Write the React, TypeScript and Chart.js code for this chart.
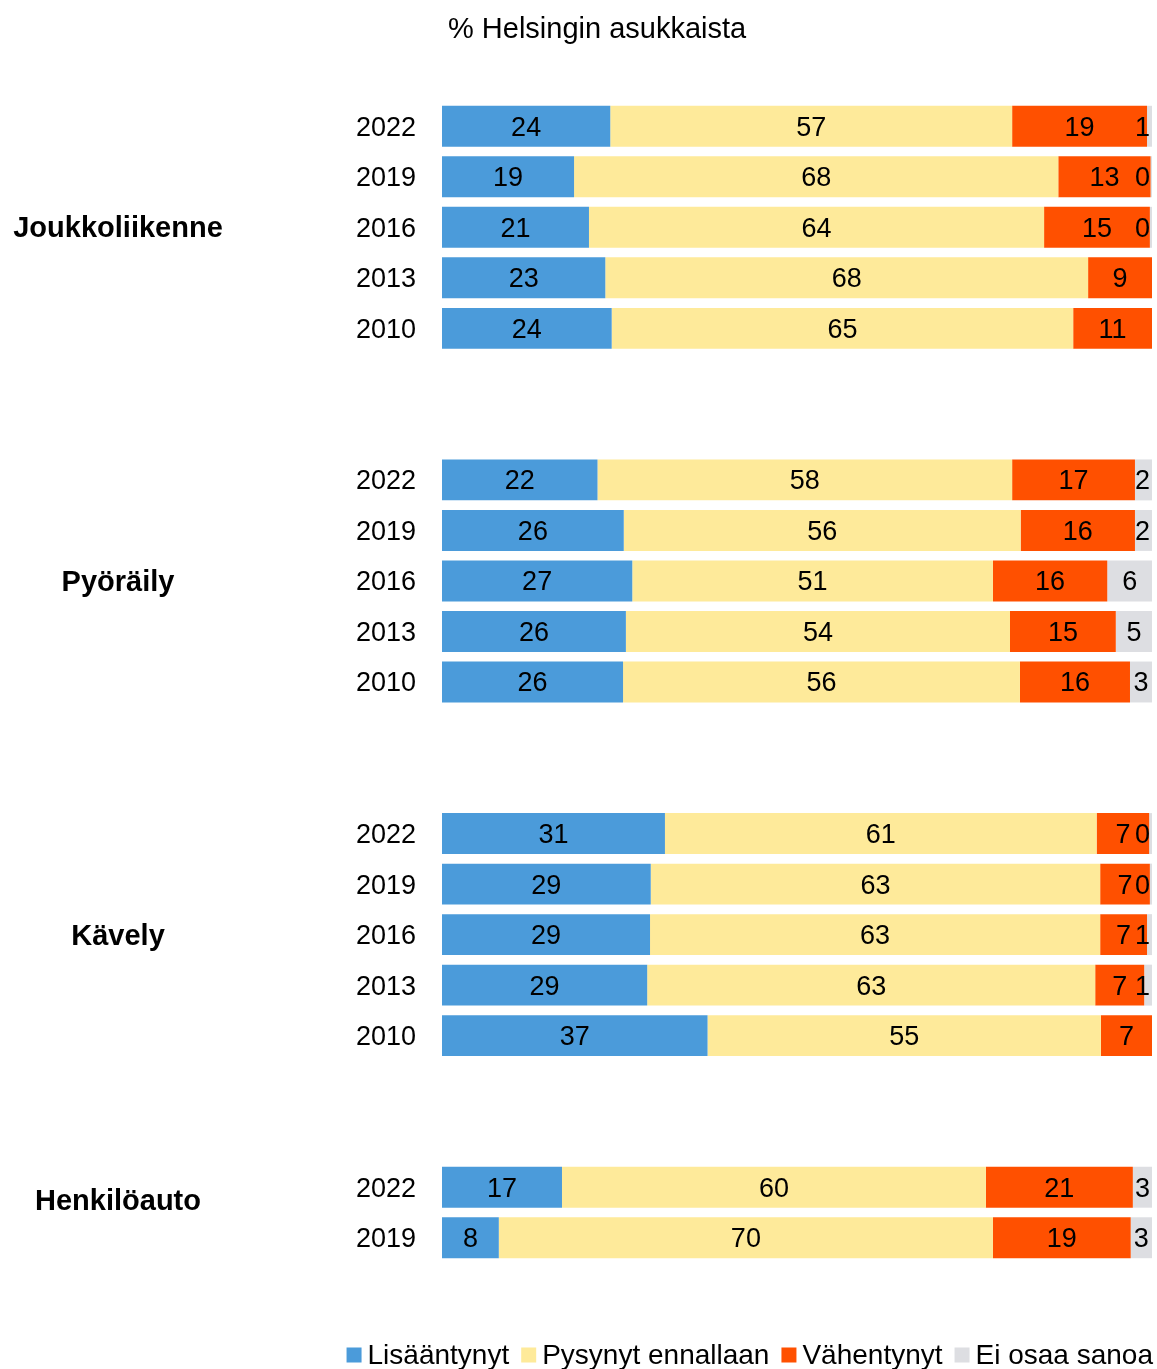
import React, { useEffect, useRef } from 'react';
import { Chart, registerables } from 'chart.js';

Chart.register(...registerables);

const FONT = "'Liberation Sans', Arial, Helvetica, sans-serif";

const titleText = '% Helsingin asukkaista';

// rows: years, '' = spacer rows between groups
const categories = [
  '2022', '2019', '2016', '2013', '2010', '', '',
  '2022', '2019', '2016', '2013', '2010', '', '',
  '2022', '2019', '2016', '2013', '2010', '', '',
  '2022', '2019',
];

const groupNames = ['Joukkoliikenne', 'Pyöräily', 'Kävely', 'Henkilöauto'];
const groupLabelRows = [2, 9, 16, 21.25];

const seriesNames = ['Lisääntynyt', 'Pysynyt ennallaan', 'Vähentynyt', 'Ei osaa sanoa'];
const seriesColors = ['#4B9BDA', '#FEEA9A', '#FF5000', '#DDDEE2'];

const lisaantynyt = [23.7, 18.6, 20.7, 23.0, 23.9, null, null, 21.9, 25.6, 26.8, 25.9, 25.5, null, null, 31.4, 29.4, 29.3, 28.9, 37.4, null, null, 16.9, 8.0];
const pysynyt = [56.6, 68.2, 64.1, 68.0, 65.0, null, null, 58.4, 55.9, 50.8, 54.1, 55.9, null, null, 60.8, 63.3, 63.4, 63.1, 55.4, null, null, 59.7, 69.6];
const vahentynyt = [19.0, 13.0, 14.9, 9.0, 11.1, null, null, 17.3, 16.1, 16.1, 14.9, 15.5, null, null, 7.4, 7.0, 6.6, 6.9, 7.2, null, null, 20.7, 19.4];
const eiOsaa = [0.7, 0.2, 0.3, 0, 0, null, null, 2.4, 2.4, 6.3, 5.1, 3.1, null, null, 0.4, 0.3, 0.7, 1.1, 0, null, null, 2.7, 3.0];

const seriesValues = [lisaantynyt, pysynyt, vahentynyt, eiOsaa];

const decorPlugin = {
  id: 'decor',
  afterDatasetsDraw(chart: any) {
    const { ctx, chartArea } = chart;
    ctx.save();
    // bar value labels
    ctx.font = `27px ${FONT}`;
    ctx.fillStyle = '#000';
    ctx.textBaseline = 'middle';
    ctx.textAlign = 'center';
    chart.data.datasets.forEach((ds: any, di: number) => {
      const meta = chart.getDatasetMeta(di);
      meta.data.forEach((el: any, i: number) => {
        const v = ds.data[i];
        if (v === null || v === undefined || v === 0) return;
        const p = el.getProps(['x', 'y', 'base'], true);
        const txt = String(Math.round(v));
        const w = ctx.measureText(txt).width;
        let cx = (p.x + p.base) / 2;
        const maxX = chartArea.right - 2 - w / 2;
        if (cx > maxX) cx = maxX;
        ctx.fillText(txt, cx, p.y + 2);
      });
    });

    // group labels
    const yScale = chart.scales.y;
    ctx.font = `bold 29px ${FONT}`;
    ctx.textAlign = 'center';
    groupNames.forEach((name, gi) => {
      const y = yScale.getPixelForValue(groupLabelRows[gi]);
      ctx.fillText(name, 118, y + 2);
    });

    // title
    ctx.font = `29px ${FONT}`;
    ctx.textAlign = 'left';
    ctx.fillText(titleText, chartArea.left + 6, 30);

    // legend (right-aligned to plot)
    ctx.font = `28px ${FONT}`;
    const box = 15;
    const gapText = 6;
    const gapItem = 12;
    const widths = seriesNames.map((n) => ctx.measureText(n).width);
    const total = widths.reduce((a, b) => a + b, 0) + seriesNames.length * (box + gapText) + gapItem * (seriesNames.length - 1);
    let x = chartArea.right + 1 - total;
    const ly = chart.height - 14;
    seriesNames.forEach((n, i) => {
      ctx.fillStyle = seriesColors[i];
      ctx.fillRect(x, ly - box / 2, box, box);
      ctx.fillStyle = '#000';
      ctx.fillText(n, x + box + gapText, ly + 1);
      x += box + gapText + widths[i] + gapItem;
    });
    ctx.restore();
  },
};

export default function App() {
  const canvasRef = useRef<HTMLCanvasElement | null>(null);

  useEffect(() => {
    document.body.style.margin = '0';
    const canvas = canvasRef.current;
    if (!canvas) return;
    const chart = new Chart(canvas, {
      type: 'bar',
      data: {
        labels: categories,
        datasets: seriesNames.map((name, i) => ({
          label: name,
          data: seriesValues[i] as any,
          backgroundColor: seriesColors[i],
          borderWidth: 0,
          barPercentage: 0.81,
          categoryPercentage: 1,
        })),
      },
      options: {
        indexAxis: 'y',
        responsive: true,
        maintainAspectRatio: false,
        animation: false,
        layout: { padding: { top: 101, bottom: 106, left: 0, right: 5 } },
        scales: {
          x: { stacked: true, min: 0, max: 100, display: false },
          y: {
            stacked: true,
            grid: { display: false, drawTicks: false },
            border: { display: false },
            ticks: {
              autoSkip: false,
              padding: 26,
              labelOffset: 2,
              color: '#000',
              font: { family: FONT, size: 27 },
            },
            afterFit(scale: any) {
              scale.width = 442;
            },
          },
        },
        plugins: {
          legend: { display: false },
          title: { display: false },
          tooltip: { enabled: false },
        },
      },
      plugins: [decorPlugin],
    });
    return () => chart.destroy();
  }, []);

  return (
    <div style={{ width: 1157, height: 1369, position: 'relative', background: '#fff' }}>
      <canvas ref={canvasRef} />
    </div>
  );
}
